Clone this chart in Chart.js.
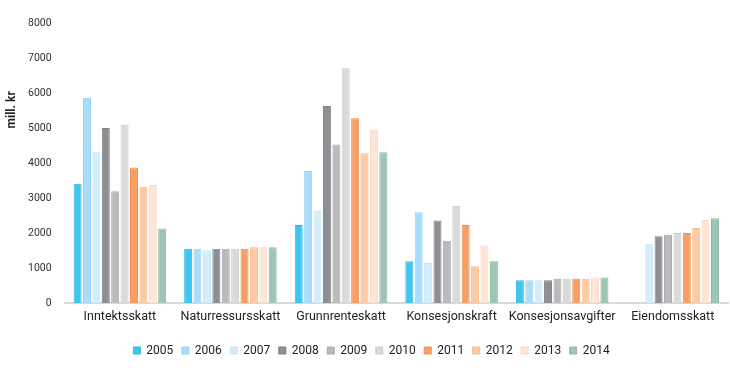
<!DOCTYPE html>
<html>
<head>
<meta charset="utf-8">
<script src="https://cdn.jsdelivr.net/npm/chart.js@4/dist/chart.umd.min.js"></script>
<style>
  html, body { margin: 0; padding: 0; background: #fff; }
  #box { width: 730px; height: 371px; position: relative; }
</style>
</head>
<body>
<div id="box"><canvas id="cv"></canvas></div>
<script>
  // Kategorier og år
  var kategorier = ["Inntektsskatt", "Naturressursskatt", "Grunnrenteskatt", "Konsesjonskraft", "Konsesjonsavgifter", "Eiendomsskatt"];
  var aar = ["2005", "2006", "2007", "2008", "2009", "2010", "2011", "2012", "2013", "2014"];

  // Verdier (mill. kr) per år, i kategori-rekkefølge
  var v2005 = [3410, 1550, 2230, 1190, 650, null];
  var v2006 = [5860, 1550, 3770, 2590, 650, null];
  var v2007 = [4310, 1510, 2640, 1140, 650, 1690];
  var v2008 = [5000, 1550, 5630, 2360, 650, 1910];
  var v2009 = [3190, 1550, 4530, 1780, 690, 1950];
  var v2010 = [5090, 1550, 6710, 2770, 690, 2000];
  var v2011 = [3870, 1550, 5280, 2230, 690, 2000];
  var v2012 = [3320, 1590, 4280, 1050, 690, 2140];
  var v2013 = [3370, 1590, 4950, 1640, 730, 2370];
  var v2014 = [2130, 1590, 4310, 1190, 730, 2420];
  var serier = [v2005, v2006, v2007, v2008, v2009, v2010, v2011, v2012, v2013, v2014];

  var farger = ["#3ec6f1", "#a9ddf9", "#d3edfb", "#8e8f93", "#b9babd", "#dadadb", "#f79f65", "#fccaa3", "#fde6d5", "#9cc5b4"];
  var kanter = ["#2fb8e6", "#98d3f3", "#c4e5f7", "#7f8084", "#aaabae", "#cdcdce", "#ef8f52", "#f5bb90", "#f7d8c2", "#8cb8a6"];

  var yTittel = "mill. kr";

  var datasett = serier.map(function (d, i) {
    return {
      label: aar[i], data: d,
      backgroundColor: farger[i], borderColor: kanter[i], borderWidth: 1,
      barPercentage: 0.85, categoryPercentage: 0.85
    };
  });

  // y-akse tittel tegnes manuelt (sitter over midten i originalen)
  var tittelPlugin = {
    id: "ytittel",
    afterDraw: function (chart) {
      var c = chart.ctx, a = chart.chartArea;
      c.save();
      c.translate(12, a.top + (a.bottom - a.top) * 0.31);
      c.rotate(-Math.PI / 2);
      c.font = "bold 12px Roboto";
      c.fillStyle = "#222";
      c.textAlign = "center";
      c.textBaseline = "middle";
      c.fillText(yTittel, 0, 0);
      c.restore();
    }
  };

  new Chart(document.getElementById("cv"), {
    type: "bar",
    data: { labels: kategorier, datasets: datasett },
    plugins: [tittelPlugin],
    options: {
      responsive: true, maintainAspectRatio: false, animation: false,
      layout: { padding: { left: 15, right: 2, top: 23, bottom: 4.5 } },
      scales: {
        x: {
          grid: { display: false, drawTicks: false },
          border: { color: "#d9d9d9", width: 2 },
          ticks: { color: "#222", font: { family: "Roboto", size: 12.5 }, padding: 6, maxRotation: 0, minRotation: 0, autoSkip: false },
          afterFit: function (s) { s.height += 6; } // luft mellom etiketter og forklaring
        },
        y: {
          min: 0, max: 8000,
          grid: { display: false, drawTicks: false },
          border: { display: false },
          ticks: {
            stepSize: 1000, color: "#333", font: { family: "Roboto", size: 10.5 }, padding: 13,
            callback: function (v) { return String(v); }
          }
        }
      },
      plugins: {
        legend: {
          position: "bottom",
          labels: { boxWidth: 7, boxHeight: 7, padding: 8.5, color: "#222", font: { family: "Roboto", size: 12 } }
        },
        tooltip: { enabled: false }
      }
    }
  });
</script>
</body>
</html>
